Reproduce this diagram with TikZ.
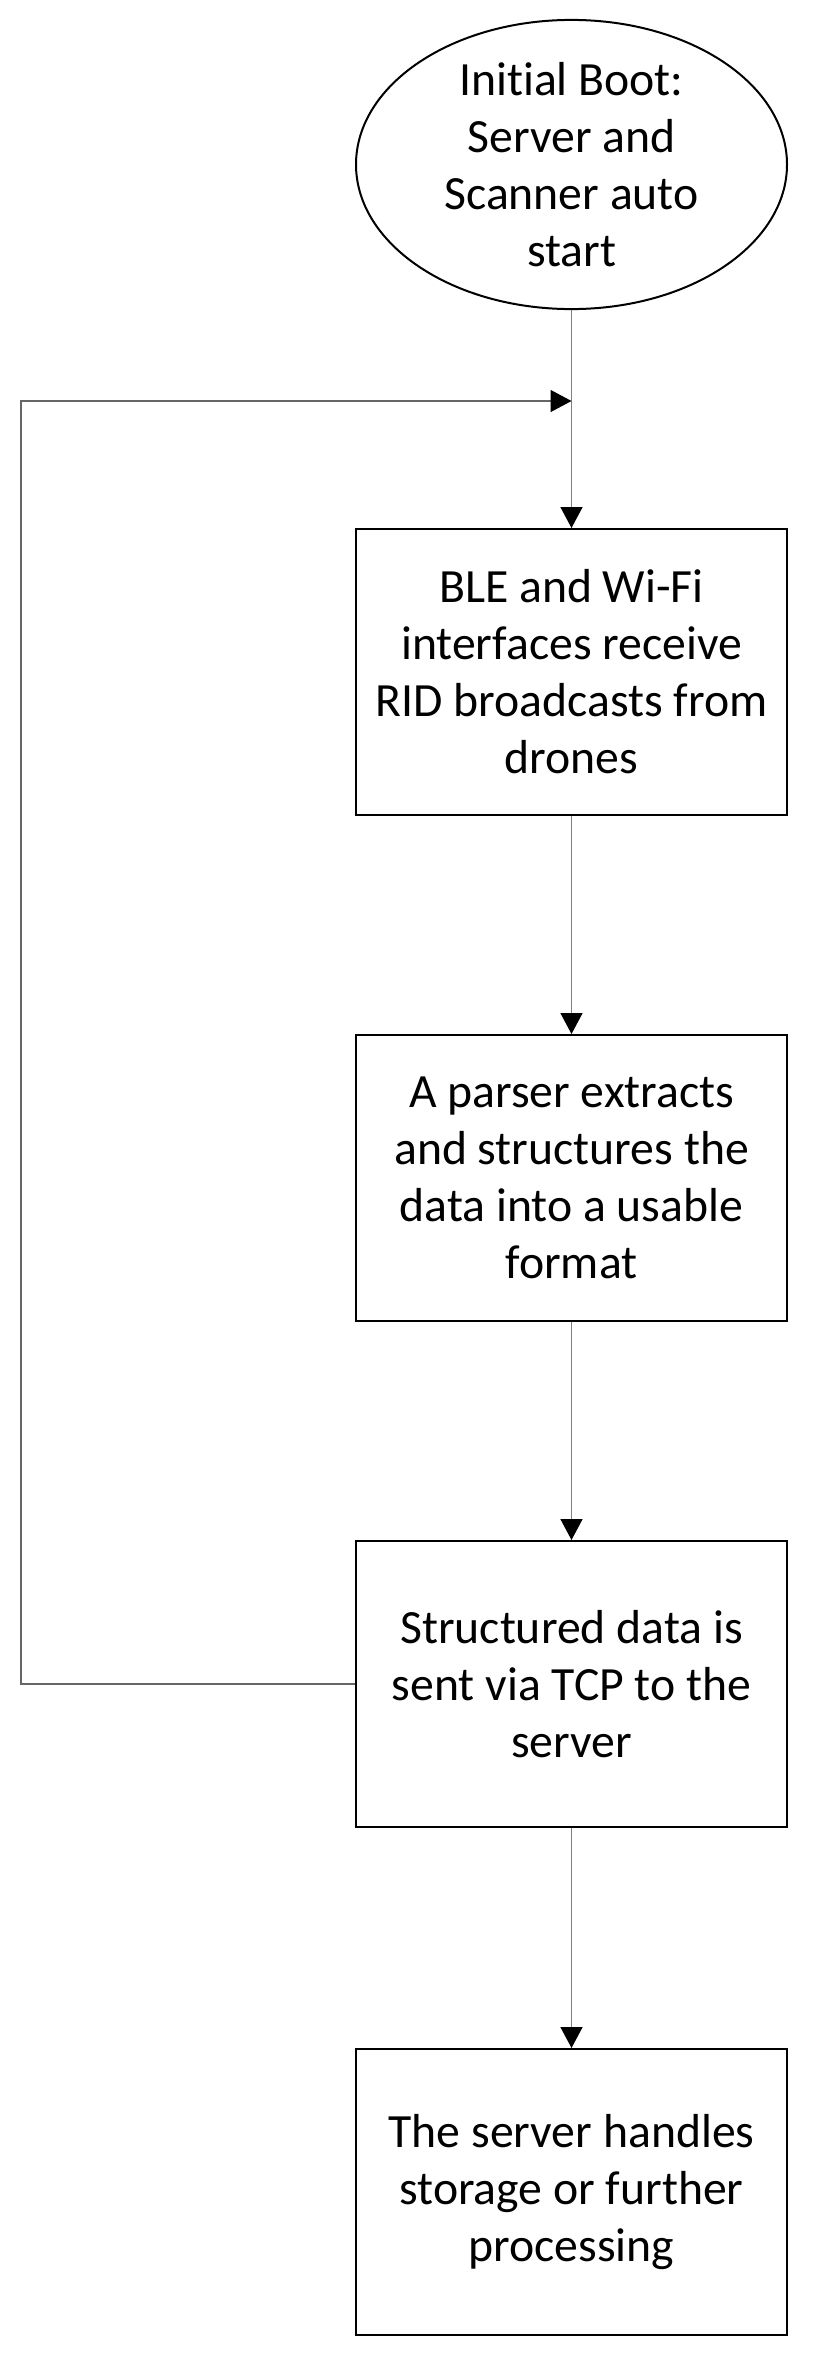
\documentclass[tikz,border=0pt]{standalone}
\usepackage{fontspec}
\setmainfont[Ligatures={NoCommon}]{Carlito}
\usetikzlibrary{arrows.meta,shapes.geometric}
\begin{document}
\begin{tikzpicture}[x=1pt,y=-1pt,
  txt/.style={align=center,font=\fontsize{47.7}{57}\selectfont,inner sep=0pt},
  stepbox/.style={txt,draw=black,line width=2pt,minimum width=431pt,minimum height=286pt},
  startnode/.style={txt,ellipse,draw=black,line width=2pt,minimum width=431pt,minimum height=285pt},
  conn/.style={draw=black!50,line width=1.5pt,-{Triangle[width=22pt,length=21pt,color=black]}},
  loopline/.style={draw=black!60,line width=1.3pt,-{Triangle[width=22pt,length=21pt,color=black]}}
]
\useasboundingbox (0,0) rectangle (825,2358);
\node[startnode] (start) at (571.5,164.5) {Init\kern0pt ial Boot:\\Server and\\Scanner auto\\start};
\node[stepbox] (b1) at (571.5,672) {BLE and Wi-Fi\\interfaces receive\\RID broadcasts from\\drones};
\node[stepbox] (b2) at (571.5,1178) {A parser extracts\\and structures the\\data into a usable\\format};
\node[stepbox] (b3) at (571.5,1684) {Structured data is\\sent via TCP to the\\server};
\node[stepbox] (b4) at (571.5,2192) {The server handles\\storage or further\\processing};
\coordinate (lb) at (21,1684);
\coordinate (lt) at (21,401);
\coordinate (lc) at (571.5,401);
\draw[conn] (start.south) -- (b1.north);
\draw[conn] (b1.south) -- (b2.north);
\draw[conn] (b2.south) -- (b3.north);
\draw[conn] (b3.south) -- (b4.north);
\draw[loopline] (b3.west) -- (lb) -- (lt) -- (lc);
\end{tikzpicture}
\end{document}
